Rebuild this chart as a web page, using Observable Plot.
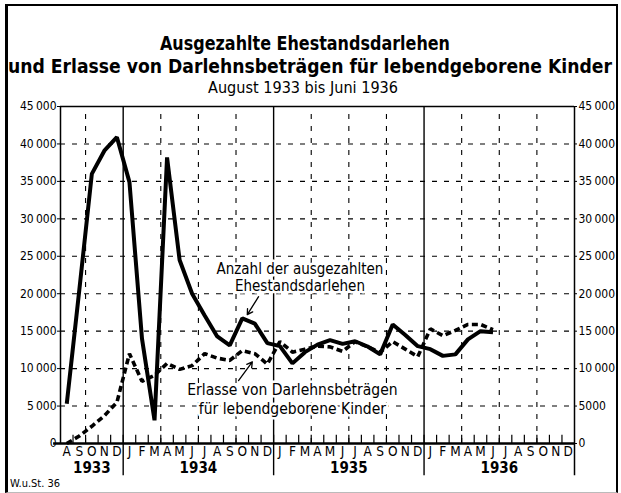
<!DOCTYPE html>
<html>
<head>
<meta charset="utf-8">
<script src="https://cdn.jsdelivr.net/npm/d3@7"></script>
<script src="https://cdn.jsdelivr.net/npm/@observablehq/plot@0.6"></script>
<style>
  html, body { margin: 0; padding: 0; background: #fff; }
  body { width: 621px; height: 493px; overflow: hidden; position: relative;
         font-family: "DejaVu Sans Condensed", "DejaVu Sans", sans-serif; font-stretch: condensed; }
  #frame { position: absolute; left: 5px; top: 4px; width: 608px; height: 486px;
           border-left: 3px solid #000; border-top: 2px solid #000; border-right: 2px solid #000;
           border-bottom: 1px solid #bbb; pointer-events: none; }
  #title { display: block; }
  #chart svg { display: block; overflow: visible; }
  #source { position: absolute; left: 10px; top: 477px; font-size: 11px; }
</style>
</head>
<body>
<div id="frame"></div>
<svg id="title" width="621" height="100" font-family='"DejaVu Sans Condensed","DejaVu Sans",sans-serif' style="font-stretch:condensed">
  <text x="305" y="50" text-anchor="middle" font-size="19" font-weight="bold" textLength="290" lengthAdjust="spacingAndGlyphs">Ausgezahlte Ehestandsdarlehen</text>
  <text x="310" y="73" text-anchor="middle" font-size="19" font-weight="bold" textLength="604" lengthAdjust="spacingAndGlyphs">und Erlasse von Darlehnsbeträgen für lebendgeborene Kinder</text>
  <text x="303" y="93" text-anchor="middle" font-size="15" textLength="190" lengthAdjust="spacingAndGlyphs">August 1933 bis Juni 1936</text>
</svg>
<div id="chart"></div>
<div id="source">W.u.St. 36</div>
<script>
// ---- data ----
const startMonth = 7;            // August (0 = January)
const nMonths = 41;              // Aug 1933 .. Dec 1936
const monthLabels = ["J","F","M","A","M","J","J","A","S","O","N","D"];
const years = ["1933","1934","1935","1936"];
const yTicks = [0,5000,10000,15000,20000,25000,30000,35000,40000,45000];

// Anzahl der ausgezahlten Ehestandsdarlehen, Aug 1933 - Jun 1936
const darlehen = [
  5300, 20500, 36000, 39100, 40900,
  34900, 14000, 3100, 38200, 24500, 20000, 17100, 14300, 13100, 16700, 16000, 13400,
  13000, 10700, 12200, 13200, 13800, 13300, 13650, 12950, 11900, 15900, 14500, 13000,
  12600, 11700, 11900, 13900, 15000, 14850
];
// Erlasse von Darlehnsbeträgen für lebendgeborene Kinder
const erlasse = [
  0, 1000, 2300, 3700, 5500,
  12000, 8300, 9100, 10700, 9900, 10400, 12000, 11400, 11100, 12400, 12000, 10600,
  13600, 12200, 12600, 13000, 12900, 12300, 13600, 12900, 12200, 13600, 12600, 11600,
  15300, 14400, 15100, 15900, 15900, 15200
];
const seriesLabels = {
  darlehen: "Anzahl der ausgezahlten\nEhestandsdarlehen",
  erlasse: "Erlasse von Darlehnsbeträgen\nfür lebendgeborene Kinder"
};

// ---- derived tables ----
const FONT = '"DejaVu Sans Condensed","DejaVu Sans",sans-serif';
const months = d3.range(nMonths).map(i => ({i, label: monthLabels[(startMonth + i) % 12]}));
const bounds = d3.range(1, nMonths);
const yearBounds = bounds.filter(b => (startMonth + b) % 12 === 0);
const quarterBounds = bounds.filter(b => { const c = (startMonth + b) % 12; return c !== 0 && c % 3 === 0; });
const yearData = years.map((y, k) => {
  const first = k === 0 ? 0 : 12 * k - startMonth;
  const last = Math.min(nMonths, 12 * (k + 1) - startMonth);
  return {year: y, x: (first + last) / 2};
});
const solid = darlehen.map((v, i) => ({x: i + 0.5, y: v}));
const dashed = erlasse.map((v, i) => ({x: i + 0.5, y: v}));
const fmtL = n => { const s = String(n); return s.length > 3 ? s.slice(0, -3) + "\u2009" + s.slice(-3) : s; };
const fmtR = n => n < 10000 ? String(n) : fmtL(n);
const gridY = yTicks.filter(v => v > 0 && v < 45000);

const chart = Plot.plot({
  width: 621,
  height: 393,
  marginTop: 6,
  marginBottom: 50,
  marginLeft: 60,
  marginRight: 47,
  x: {domain: [0, nMonths], axis: null},
  y: {domain: [0, 45000], axis: null},
  style: {fontFamily: FONT, fontStretch: "condensed", background: "transparent", overflow: "visible", color: "#000"},
  marks: [
    // grid
    Plot.ruleY(gridY, {stroke: "#000", strokeWidth: 1.1, strokeDasharray: "5,7"}),
    Plot.ruleX(quarterBounds, {y1: 0, y2: 45000, stroke: "#000", strokeWidth: 1.1, strokeDasharray: "5,7"}),
    // frame and year separators
    Plot.ruleY([45000], {stroke: "#000", strokeWidth: 1.5}),
    Plot.ruleX([0], {y1: 0, y2: 45000, stroke: "#000", strokeWidth: 1.5}),
    Plot.ruleX([nMonths], {y1: -4300, y2: 45000, stroke: "#000", strokeWidth: 1.5}),
    Plot.ruleX(yearBounds, {y1: -4300, y2: 45000, stroke: "#000", strokeWidth: 1.4}),
    // month ticks
    Plot.ruleX(bounds, {y1: 0, y2: 1100, stroke: "#000", strokeWidth: 1.2}),
    // annotations
    Plot.text([seriesLabels.darlehen], {x: 19.1, y: 22200, text: d => d, lineHeight: 1.15,
      fontSize: 15, fill: "#000", stroke: "#fff", strokeWidth: 5}),
    Plot.text([seriesLabels.erlasse], {x: 18.5, y: 6050, text: d => d, lineHeight: 1.25,
      fontSize: 15.5, fill: "#000", stroke: "#fff", strokeWidth: 5}),
    Plot.arrow([{x1: 15.8, y1: 19600, x2: 14.9, y2: 17200}], {x1: "x1", y1: "y1", x2: "x2", y2: "y2",
      stroke: "#000", strokeWidth: 1.3, headLength: 7}),
    Plot.arrow([{x1: 14.2, y1: 8400, x2: 15.3, y2: 10900}], {x1: "x1", y1: "y1", x2: "x2", y2: "y2",
      stroke: "#000", strokeWidth: 1.3, headLength: 7}),
    // series
    Plot.line(dashed, {x: "x", y: "y", stroke: "#000", strokeWidth: 3.6, strokeDasharray: "6,3.5",
      strokeLinecap: "butt", strokeLinejoin: "miter"}),
    Plot.line(solid, {x: "x", y: "y", stroke: "#000", strokeWidth: 4, strokeLinejoin: "miter", strokeLinecap: "butt"}),
    // x axis line
    Plot.ruleY([0], {x1: -0.55, x2: nMonths, stroke: "#000", strokeWidth: 2.6}),
    // y axes
    Plot.axisY({anchor: "left", ticks: yTicks, tickFormat: fmtL, tickSize: 3, tickPadding: 1, fontSize: 12, label: null}),
    Plot.axisY({anchor: "right", ticks: yTicks, tickFormat: fmtR, tickSize: 2, tickPadding: 2, fontSize: 12, label: null}),
    // x labels
    Plot.text(months, {x: d => d.i + 0.5, text: "label", frameAnchor: "bottom", dy: 12, fontSize: 13.5, fill: "#000"}),
    Plot.text(yearData, {x: "x", text: "year", frameAnchor: "bottom", dy: 29, fontSize: 15, fontWeight: "bold", fill: "#000"})
  ]
});
document.getElementById("chart").appendChild(chart);
</script>
</body>
</html>
